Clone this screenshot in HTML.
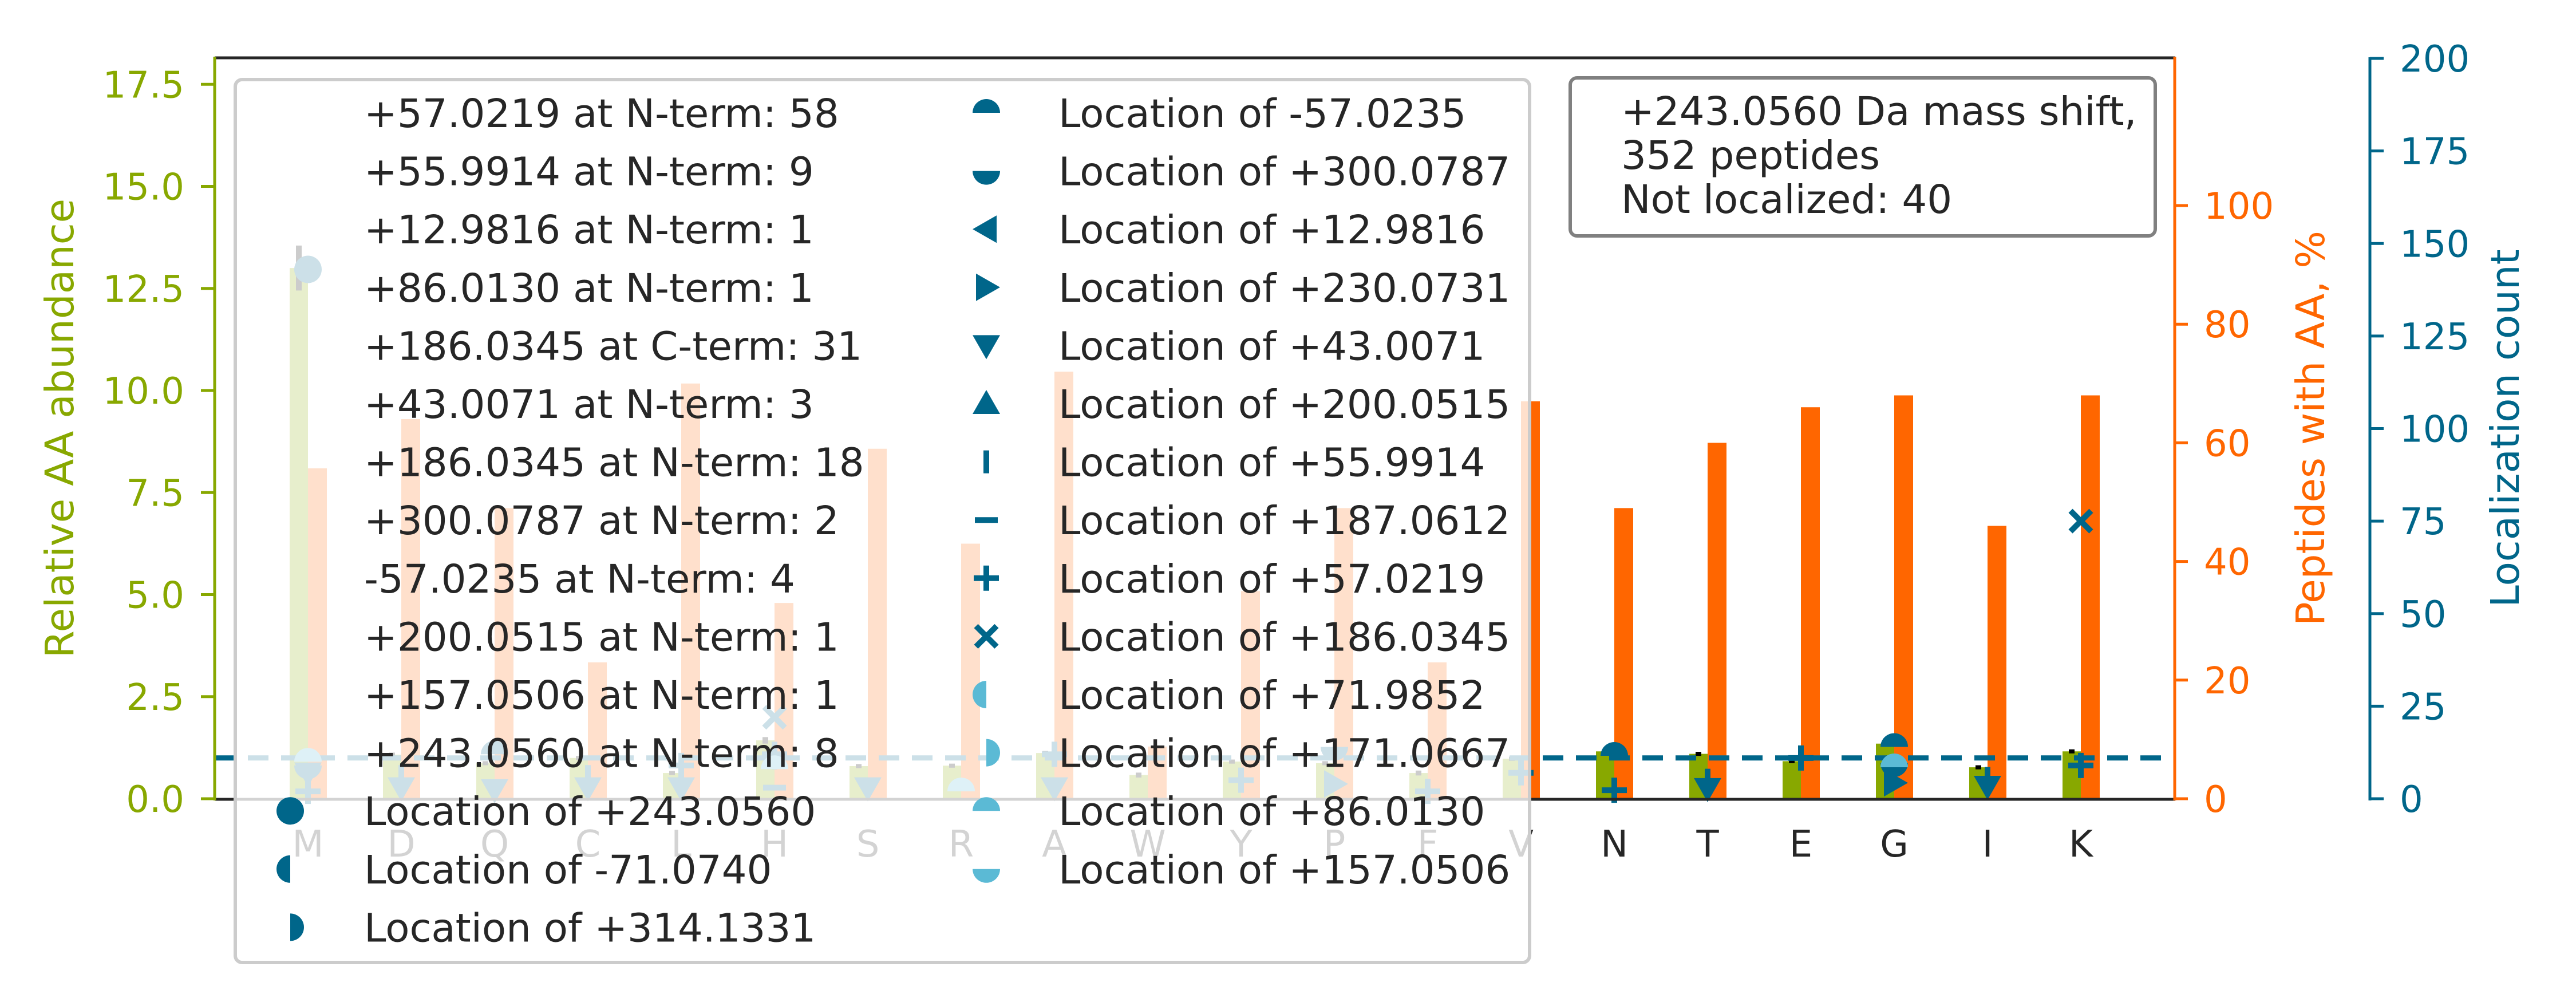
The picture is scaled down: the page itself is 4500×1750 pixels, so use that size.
<!DOCTYPE html>
<html><head><meta charset="utf-8"><style>
html,body{margin:0;padding:0;background:#fff;width:4500px;height:1750px;overflow:hidden}
svg{display:block;font-family:"DejaVu Sans","Liberation Sans",sans-serif}
</style></head><body>
<svg id="chart" width="4500" height="1750" viewBox="0 0 4500 1750">
<g id="marks"></g>
<g id="axes"></g>
<g id="legend"></g>
<g id="infobox">
  <rect x="2743" y="136" width="1022" height="276" rx="12" fill="#fff" stroke="#808080" stroke-width="6"/>
  <text x="2832" y="218" font-size="69" fill="#262626">+243.0560 Da mass shift,</text>
  <text x="2832" y="295" font-size="69" fill="#262626">352 peptides</text>
  <text x="2832" y="372" font-size="69" fill="#262626">Not localized: 40</text>
</g>
</svg>
<script>
const categories = ["M","D","Q","C","L","H","S","R","A","W","Y","P","F","V","N","T","E","G","I","K"];
const abundance = [13.0,1.08,0.87,1.0,0.63,1.43,0.8,0.81,1.12,0.58,0.91,0.87,0.63,0.98,1.16,1.1,0.92,1.35,0.77,1.16];
const abundanceErr = [0.55,0.05,0.05,0.05,0.05,0.08,0.05,0.05,0.05,0.06,0.05,0.05,0.06,0.05,0.05,0.05,0.05,0.05,0.05,0.05];
const peptidesPct = [55.7,64,49,23,70,33,59,43,72,8.8,35,49,23,67,49,60,66,68,46,68];
const loc_243_0560 = [["M",143]];
const loc_m57_0235 = [["N",11.6],["G",14],["Q",12]];
const loc_300_0787 = [["G",9.6],["M",9],["P",14]];
const loc_230_0731 = [["G",4.3],["P",4]];
const loc_43_0071 = [["T",2.8],["I",3.4],["D",3],["Q",2.5],["C",3],["L",3],["S",3],["A",3],["M",7]];
const loc_55_9914 = [["T",5],["I",5.5],["G",9],["D",6],["C",6],["H",11]];
const loc_187_0612 = [["H",3]];
const loc_57_0219 = [["N",2.3],["E",11],["K",9],["M",2],["L",9],["H",12],["A",12],["Y",5],["F",2],["V",7]];
const loc_186_0345 = [["K",75],["H",22]];
const loc_86_0130 = [["G",8.5],["M",10],["R",2],["H",8]];
const abundanceTicks = [0,2.5,5,7.5,10,12.5,15,17.5];
const pctTicks = [0,20,40,60,80,100];
const countTicks = [0,25,50,75,100,125,150,175,200];

const NS="http://www.w3.org/2000/svg";
const DARK="#00668a", LIGHT="#5bbad5", GREEN="#88a800", ORANGE="#ff6600";
const X0=538, DX=163, BASE=1395;
function xPos(cat){return X0+categories.indexOf(cat)*DX;}
function yAb(v){return BASE-v*71.3;}
function yPct(v){return BASE-v*10.36;}
function yCnt(v){return BASE-v*6.465;}
function mk(tag,attrs,parent){const e=document.createElementNS(NS,tag);for(const k in attrs)e.setAttribute(k,attrs[k]);parent.appendChild(e);return e;}
const marks=document.getElementById('marks'), axes=document.getElementById('axes'), legend=document.getElementById('legend');

categories.forEach((c,i)=>{
  const x=xPos(c);
  const g=mk('rect',{x:x-32,y:yAb(abundance[i]),width:32,height:BASE-yAb(abundance[i]),fill:GREEN},marks);
  
  
  const o=mk('rect',{x:x,y:yPct(peptidesPct[i]),width:33,height:BASE-yPct(peptidesPct[i]),fill:ORANGE},marks);
  
  
  const e=mk('line',{x1:x-16,x2:x-16,y1:yAb(abundance[i]+abundanceErr[i]),y2:yAb(abundance[i]-abundanceErr[i]),stroke:'#000','stroke-width':10},marks);
  
  
});
const dl=mk('line',{x1:375,x2:3790,y1:yAb(1),y2:yAb(1),stroke:DARK,'stroke-width':9,'stroke-dasharray':'36 22'},marks);



function shape(kind,x,y,color,parent){
  const r=24;let d;
  if(kind==='circle')return mk('circle',{cx:x,cy:y,r:r,fill:color},parent);
  if(kind==='top')d=`M${x-r},${y} A${r},${r} 0 0 1 ${x+r},${y} Z`;
  if(kind==='bottom')d=`M${x-r},${y} A${r},${r} 0 0 0 ${x+r},${y} Z`;
  if(kind==='left')d=`M${x},${y-r} A${r},${r} 0 0 0 ${x},${y+r} Z`;
  if(kind==='right')d=`M${x},${y-r} A${r},${r} 0 0 1 ${x},${y+r} Z`;
  if(kind==='tdown')d=`M${x-24},${y-18} L${x+24},${y-18} L${x},${y+24} Z`;
  if(kind==='tup')d=`M${x-24},${y+18} L${x+24},${y+18} L${x},${y-24} Z`;
  if(kind==='tleft')d=`M${x+18},${y-24} L${x+18},${y+24} L${x-24},${y} Z`;
  if(kind==='tright')d=`M${x-18},${y-24} L${x-18},${y+24} L${x+24},${y} Z`;
  if(d)return mk('path',{d:d,fill:color},parent);
  if(kind==='vline')return mk('line',{x1:x,x2:x,y1:y-20,y2:y+20,stroke:color,'stroke-width':10},parent);
  if(kind==='hline')return mk('line',{x1:x-20,x2:x+20,y1:y,y2:y,stroke:color,'stroke-width':10},parent);
  if(kind==='plus')return mk('path',{d:`M${x-22},${y} H${x+22} M${x},${y-22} V${y+22}`,stroke:color,'stroke-width':10,fill:'none'},parent);
  if(kind==='x')return mk('path',{d:`M${x-18},${y-18} L${x+18},${y+18} M${x-18},${y+18} L${x+18},${y-18}`,stroke:color,'stroke-width':10,fill:'none'},parent);
}
const series=[
  [loc_243_0560,'circle',DARK,'243-0560'],[loc_m57_0235,'top',DARK,'m57-0235'],[loc_300_0787,'bottom',DARK,'300-0787'],
  [loc_230_0731,'tright',DARK,'230-0731'],[loc_43_0071,'tdown',DARK,'43-0071'],[loc_55_9914,'vline',DARK,'55-9914'],
  [loc_187_0612,'hline',DARK,'187-0612'],[loc_57_0219,'plus',DARK,'57-0219'],[loc_186_0345,'x',DARK,'186-0345'],
  [loc_86_0130,'top',LIGHT,'86-0130']];
series.forEach(s=>{s[0].forEach(p=>{
  const el=shape(s[1],xPos(p[0]),yCnt(p[1]),s[2],marks);
  
  
});});

// axes
function ln(a,name){const e=mk('line',a,axes);return e;}
function tx(x,y,s,a,name){const e=mk('text',Object.assign({x:x,y:y},a),axes);e.textContent=s;return e;}
ln({x1:375,x2:3800,y1:101,y2:101,stroke:'#262626','stroke-width':5},'top-spine');
ln({x1:375,x2:3800,y1:1396,y2:1396,stroke:'#262626','stroke-width':5},'x-axis-line');
ln({x1:375,x2:375,y1:99,y2:1398,stroke:GREEN,'stroke-width':5},'left-y-axis-line');
ln({x1:3799,x2:3799,y1:99,y2:1398,stroke:ORANGE,'stroke-width':5},'right-y-axis-line');
ln({x1:4140,x2:4140,y1:100,y2:1398,stroke:DARK,'stroke-width':5},'count-axis-line');
abundanceTicks.forEach(t=>{const y=yAb(t);
  ln({x1:351,x2:375,y1:y,y2:y,stroke:GREEN,'stroke-width':5},'left-tick');
  tx(322,y+23,t.toFixed(1),{'font-size':64,fill:GREEN,'text-anchor':'end'},'left-tick-label');});
pctTicks.forEach(t=>{const y=yPct(t);
  ln({x1:3799,x2:3822,y1:y,y2:y,stroke:ORANGE,'stroke-width':5},'right-tick');
  tx(3850,y+23,String(t),{'font-size':64,fill:ORANGE},'right-tick-label');});
countTicks.forEach(t=>{const y=yCnt(t);
  ln({x1:4140,x2:4164,y1:y,y2:y,stroke:DARK,'stroke-width':5},'count-tick');
  tx(4192,y+23,String(t),{'font-size':64,fill:DARK},'count-tick-label');});
categories.forEach(c=>tx(xPos(c),1496,c,{'font-size':64,fill:'#262626','text-anchor':'middle'},'x-tick-label-'+c));
tx(0,0,'Relative AA abundance',{'font-size':69,fill:GREEN,'text-anchor':'middle',transform:'translate(128,748) rotate(-90)'},'y-axis-title');
tx(0,0,'Peptides with AA, %',{'font-size':69,fill:ORANGE,'text-anchor':'middle',transform:'translate(4060,748) rotate(-90)'},'right-y-axis-title');
tx(0,0,'Localization count',{'font-size':69,fill:DARK,'text-anchor':'middle',transform:'translate(4400,748) rotate(-90)'},'count-axis-title');

// legend
const lr=mk('rect',{x:411,y:139,width:2261,height:1542,rx:12,fill:'rgba(255,255,255,0.8)',stroke:'#cccccc','stroke-width':6},legend);


const col1=["+57.0219 at N-term: 58","+55.9914 at N-term: 9","+12.9816 at N-term: 1","+86.0130 at N-term: 1","+186.0345 at C-term: 31","+43.0071 at N-term: 3","+186.0345 at N-term: 18","+300.0787 at N-term: 2","-57.0235 at N-term: 4","+200.0515 at N-term: 1","+157.0506 at N-term: 1","+243.0560 at N-term: 8",
 ["Location of +243.0560","circle",DARK],["Location of -71.0740","left",DARK],["Location of +314.1331","right",DARK]];
const col2=[["Location of -57.0235","top",DARK],["Location of +300.0787","bottom",DARK],["Location of +12.9816","tleft",DARK],["Location of +230.0731","tright",DARK],["Location of +43.0071","tdown",DARK],["Location of +200.0515","tup",DARK],["Location of +55.9914","vline",DARK],["Location of +187.0612","hline",DARK],["Location of +57.0219","plus",DARK],["Location of +186.0345","x",DARK],["Location of +71.9852","left",LIGHT],["Location of +171.0667","right",LIGHT],["Location of +86.0130","top",LIGHT],["Location of +157.0506","bottom",LIGHT]];
function legCol(items,mx,tx0){items.forEach((it,i)=>{
  const y=197+i*101.6;
  const label=typeof it==='string'?it:it[0];
  const t=mk('text',{x:tx0,y:y+25,'font-size':69,fill:'#262626'},legend);
  t.textContent=label;
  
  
  if(typeof it!=='string'){const m=shape(it[1],mx,y,it[2],legend);
    
    }
});}
legCol(col1,507,636);
legCol(col2,1723,1849);
</script>
</body></html>
